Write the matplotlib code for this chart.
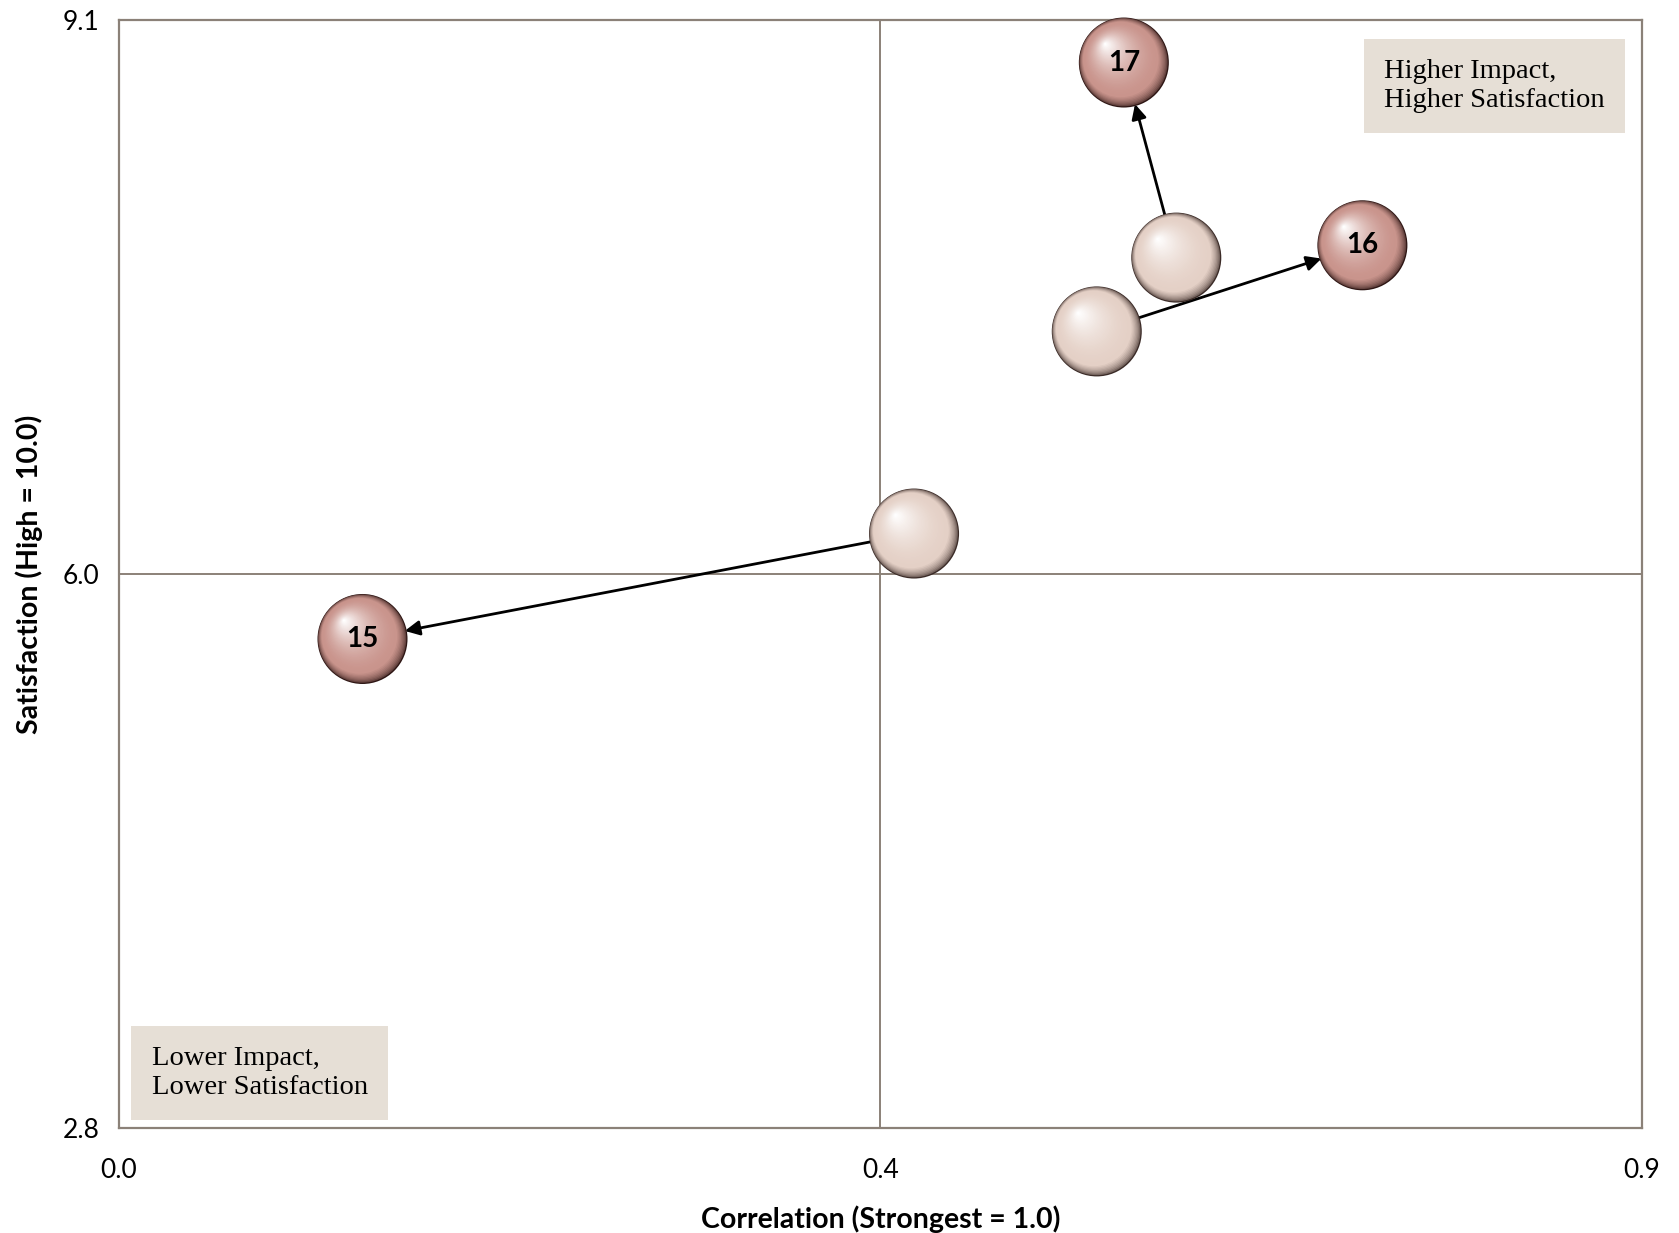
import numpy as np
import matplotlib.pyplot as plt
from matplotlib.colors import to_rgb
from matplotlib.transforms import ScaledTranslation

# data
labels = ["15", "16", "17"]
prev_x = [0.470, 0.578, 0.625]
prev_y = [6.18, 7.33, 7.75]
curr_x = [0.144, 0.735, 0.594]
curr_y = [5.58, 7.82, 8.86]

x_ticks = [0.0, 0.45, 0.9]
x_ticklabels = ["0.0", "0.4", "0.9"]
y_ticks = [2.8, 5.95, 9.1]
y_ticklabels = ["2.8", "6.0", "9.1"]

frame_color = "#8b8178"
box_color = "#e6dfd6"
sans = ["Lato", "DejaVu Sans"]
serif = ["Liberation Serif", "DejaVu Serif"]


def blend(c1, c2, t):
    a = np.array(to_rgb(c1))
    b = np.array(to_rgb(c2))
    return tuple(np.clip(a + (b - a) * min(t, 1.0), 0, 1))


def spheres(ax, xs, ys, base, edge, size=4200, n=50, z=3):
    # shaded balls: stacked circles shifted to the upper left
    r = np.sqrt(size) / 2
    fig = ax.figure
    for k in range(n):
        f = 1 - k / n
        t = k / (n - 1)
        if t < 0.16:
            col = blend(edge, base, (t / 0.16) ** 0.5)
        else:
            col = blend(base, "#ffffff", ((t - 0.16) / 0.84) ** 1.7)
        dx = -(1 - f) * r * 0.42
        dy = (1 - f) * r * 0.42
        tr = ax.transData + ScaledTranslation(dx / 72, dy / 72, fig.dpi_scale_trans)
        ax.scatter(xs, ys, s=size * f ** 2, color=[col], edgecolors="none",
                   transform=tr, zorder=z, clip_on=False)


fig = plt.figure(figsize=(16.79, 12.33), dpi=100)
ax = fig.add_axes([0.0708, 0.0855, 0.9069, 0.898])

ax.set_xlim(0, 0.9)
ax.set_ylim(2.8, 9.1)
ax.set_xticks(x_ticks)
ax.set_xticklabels(x_ticklabels, family=sans, fontsize=19)
ax.set_yticks(y_ticks)
ax.set_yticklabels(y_ticklabels, family=sans, fontsize=19)
ax.tick_params(axis="x", length=0, pad=22)
ax.tick_params(axis="y", length=0, pad=14)
for s in ax.spines.values():
    s.set_color(frame_color)
    s.set_linewidth(1.6)

# quadrant lines
ax.axvline(x_ticks[1], color=frame_color, lw=1.4, zorder=1)
ax.axhline(y_ticks[1], color=frame_color, lw=1.4, zorder=1)

ax.set_xlabel("Correlation (Strongest = 1.0)", family=sans, fontsize=20.5,
              fontweight="bold", labelpad=16)
ax.set_ylabel("Satisfaction (High = 10.0)", family=sans, fontsize=20.5,
              fontweight="bold", labelpad=14)

# arrows from previous to current position
for px, py, cx, cy in zip(prev_x, prev_y, curr_x, curr_y):
    ax.annotate("", xy=(cx, cy), xytext=(px, py),
                arrowprops=dict(arrowstyle="-|>", color="black", lw=2,
                                mutation_scale=22, shrinkA=30, shrinkB=31),
                zorder=2)

spheres(ax, prev_x, prev_y, "#e4d0c6", "#3b2b27")
spheres(ax, curr_x, curr_y, "#c9948c", "#2e1614")

for cx, cy, lab in zip(curr_x, curr_y, labels):
    ax.text(cx, cy, lab, ha="center", va="center", family=sans, fontsize=20,
            fontweight="bold", color="black", zorder=5)

ax.text(0.831, 0.965, "Higher Impact,\nHigher Satisfaction",
        transform=ax.transAxes, ha="left", va="top", family=serif,
        fontsize=20.5, linespacing=1.2,
        bbox=dict(boxstyle="square,pad=0.72", fc=box_color, ec="none"))
ax.text(0.0215, 0.025, "Lower Impact,\nLower Satisfaction",
        transform=ax.transAxes, ha="left", va="bottom", family=serif,
        fontsize=20.5, linespacing=1.2,
        bbox=dict(boxstyle="square,pad=0.72", fc=box_color, ec="none"))

fig.savefig("out.png", dpi=100)
